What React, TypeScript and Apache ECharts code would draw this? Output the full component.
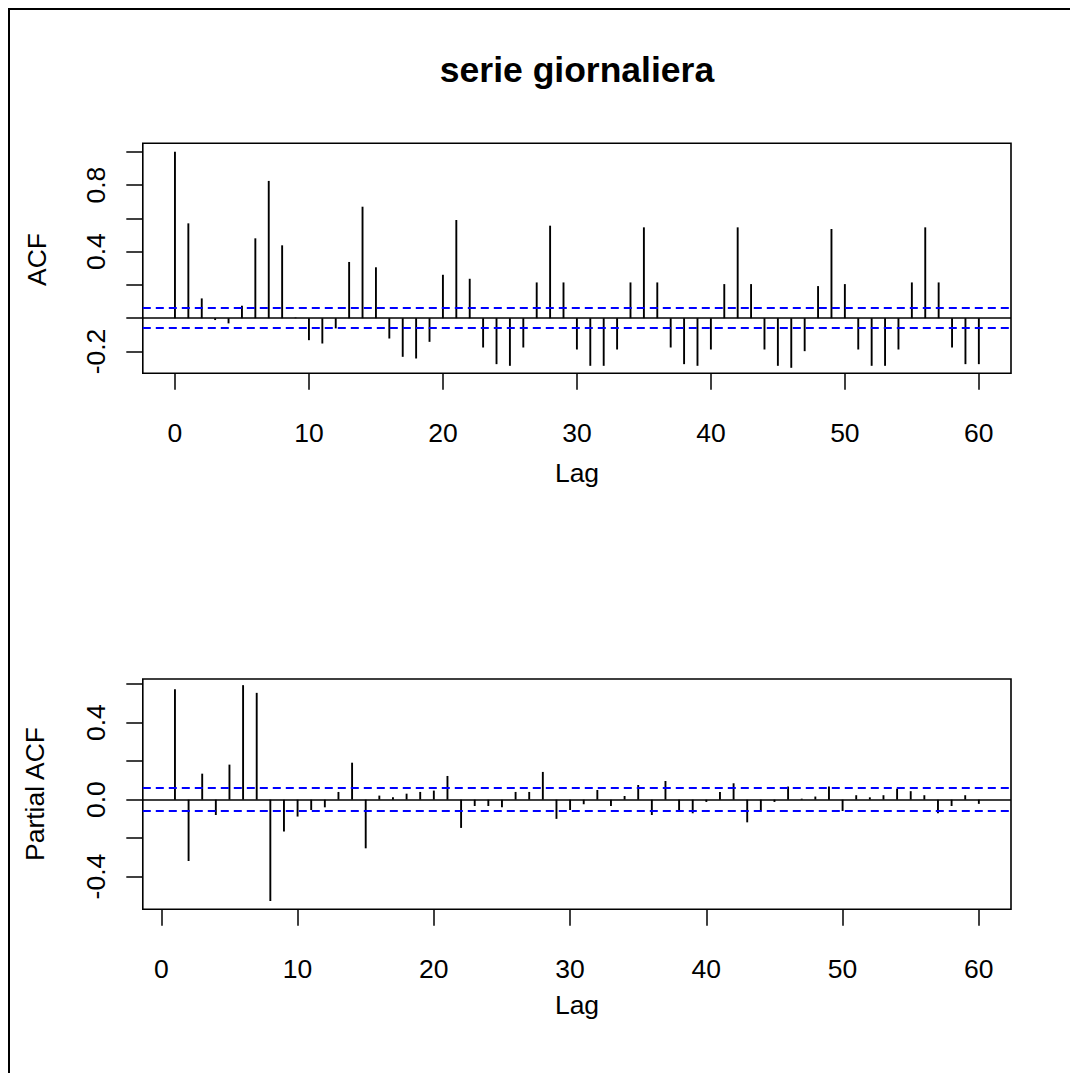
import React, { useEffect, useRef } from "react";
import * as echarts from "echarts";

const titleText = "serie giornaliera";
const acfLags = [0,1,2,3,4,5,6,7,8,9,10,11,12,13,14,15,16,17,18,19,20,21,22,23,24,25,26,27,28,29,30,31,32,33,34,35,36,37,38,39,40,41,42,43,44,45,46,47,48,49,50,51,52,53,54,55,56,57,58,59,60];
const acfValues = [1.0,0.570,0.119,-0.011,-0.031,0.075,0.480,0.825,0.438,0.004,-0.132,-0.152,-0.061,0.338,0.670,0.306,-0.122,-0.232,-0.242,-0.142,0.261,0.590,0.237,-0.176,-0.276,-0.286,-0.176,0.215,0.556,0.215,-0.188,-0.286,-0.286,-0.188,0.215,0.546,0.215,-0.176,-0.276,-0.286,-0.188,0.205,0.546,0.205,-0.188,-0.286,-0.298,-0.198,0.193,0.536,0.205,-0.188,-0.286,-0.286,-0.188,0.215,0.546,0.215,-0.176,-0.276,-0.276];
const pacfLags = [1,2,3,4,5,6,7,8,9,10,11,12,13,14,15,16,17,18,19,20,21,22,23,24,25,26,27,28,29,30,31,32,33,34,35,36,37,38,39,40,41,42,43,44,45,46,47,48,49,50,51,52,53,54,55,56,57,58,59,60];
const pacfValues = [0.574,-0.319,0.135,-0.080,0.182,0.595,0.555,-0.527,-0.166,-0.088,-0.054,-0.040,0.040,0.192,-0.253,0.021,0.012,0.031,0.040,0.047,0.123,-0.147,-0.033,-0.033,-0.040,0.040,0.040,0.144,-0.100,-0.054,-0.024,0.050,-0.033,0.019,0.076,-0.080,0.097,-0.054,-0.071,-0.012,0.040,0.085,-0.118,-0.059,-0.012,0.068,0.005,0.016,0.068,-0.059,0.023,0.012,0.023,0.057,0.044,0.023,-0.071,-0.033,0.023,-0.022];
const confLimit = 0.06;
const xTicks = [0, 10, 20, 30, 40, 50, 60];
const acfYTicks = [-0.2, 0, 0.2, 0.4, 0.6, 0.8, 1.0];
const acfYLabels = [-0.2, 0.4, 0.8];
const pacfYTicks = [-0.4, -0.2, 0, 0.2, 0.4, 0.6];
const pacfYLabels = [-0.4, 0.0, 0.4];
const xLabelAxis = "Lag";
const acfYName = "ACF";
const pacfYName = "Partial ACF";

const FONT = "'Liberation Sans', Arial, Helvetica, sans-serif";

export default function App() {
  const ref = useRef<HTMLDivElement>(null);
  useEffect(() => {
    if (!ref.current) return;
    const chart = echarts.init(ref.current, undefined, { renderer: "svg" });
    const gridL = 132.8, gridW = 868.2;
    const xAxisCommon = (idx: number, min: number, max: number) => ({
      type: "value",
      gridIndex: idx,
      position: "bottom",
      min, max,
      splitLine: { show: false },
      axisLine: { show: false, onZero: false },
      axisTick: { show: true, inside: false, length: 16.5, lineStyle: { color: "#000", width: 1.5 }, customValues: xTicks },
      axisLabel: { show: true, customValues: xTicks, margin: 46, color: "#000", fontSize: 26.5, fontFamily: FONT, formatter: (v: number) => String(v) },
    });
    const yAxisCommon = (idx: number, min: number, max: number, ticks: number[], labels: number[]) => ({
      type: "value",
      gridIndex: idx,
      position: "left",
      min, max,
      splitLine: { show: false },
      axisLine: { show: false, onZero: false },
      axisTick: { show: true, inside: false, length: 16.5, lineStyle: { color: "#000", width: 1.5 }, customValues: ticks },
      axisLabel: { show: true, rotate: 90, customValues: labels, margin: 33, color: "#000", fontSize: 26.5, fontFamily: FONT, formatter: (v: number) => v.toFixed(1) },
    });
    const renderStem = (params: any, api: any) => {
      const x = api.value(0), y = api.value(1);
      const p0 = api.coord([x, 0]);
      const p1 = api.coord([x, y]);
      return { type: "line", shape: { x1: p0[0], y1: p0[1], x2: p1[0], y2: p1[1] }, style: { stroke: "#000", lineWidth: 1.9 } };
    };
    const markLines = {
      silent: true,
      symbol: ["none", "none"],
      label: { show: false },
      animation: false,
      data: [
        { yAxis: 0, lineStyle: { color: "#000", type: "solid", width: 1.6 } },
        { yAxis: confLimit, lineStyle: { color: "#0000FF", type: [8, 5], width: 1.9 } },
        { yAxis: -confLimit, lineStyle: { color: "#0000FF", type: [8, 5], width: 1.9 } },
      ],
    };
    chart.setOption({
      animation: false,
      backgroundColor: "#fff",
      grid: [
        { left: gridL, top: 133.3, width: gridW, height: 230, show: true, borderColor: "#000", borderWidth: 1.6, backgroundColor: "transparent" },
        { left: gridL, top: 669, width: gridW, height: 230.3, show: true, borderColor: "#000", borderWidth: 1.6, backgroundColor: "transparent" },
      ],
      xAxis: [xAxisCommon(0, -2.4, 62.4), xAxisCommon(1, -1.36, 62.36)],
      yAxis: [
        yAxisCommon(0, -0.331, 1.051, acfYTicks, acfYLabels),
        yAxisCommon(1, -0.570, 0.627, pacfYTicks, pacfYLabels),
      ],
      series: [
        { type: "custom", xAxisIndex: 0, yAxisIndex: 0, data: acfLags.map((l, i) => [l, acfValues[i]]), renderItem: renderStem, markLine: markLines, silent: true },
        { type: "custom", xAxisIndex: 1, yAxisIndex: 1, data: pacfLags.map((l, i) => [l, pacfValues[i]]), renderItem: renderStem, markLine: markLines, silent: true },
      ],
      graphic: [
        { type: "text", x: 567, y: 60, style: { text: titleText, textAlign: "center", textVerticalAlign: "middle", font: `bold 35.5px ${FONT}`, fill: "#000" } },
        { type: "text", x: 567, y: 463, style: { text: xLabelAxis, textAlign: "center", textVerticalAlign: "middle", font: `26.5px ${FONT}`, fill: "#000" } },
        { type: "text", x: 567, y: 995, style: { text: xLabelAxis, textAlign: "center", textVerticalAlign: "middle", font: `26.5px ${FONT}`, fill: "#000" } },
        { type: "text", x: 27, y: 249.5, rotation: Math.PI / 2, style: { text: acfYName, textAlign: "center", textVerticalAlign: "middle", font: `26.5px ${FONT}`, fill: "#000" } },
        { type: "text", x: 25, y: 784, rotation: Math.PI / 2, style: { text: pacfYName, textAlign: "center", textVerticalAlign: "middle", font: `26.5px ${FONT}`, fill: "#000" } },
      ],
    });
    return () => chart.dispose();
  }, []);
  return (
    <div style={{ position: "fixed", left: 8, top: 8, right: 0, bottom: 0, borderTop: "2px solid #000", borderLeft: "2px solid #000", overflow: "hidden", background: "#fff" }}>
      <div ref={ref} style={{ width: 1060, height: 1063 }} />
    </div>
  );
}
